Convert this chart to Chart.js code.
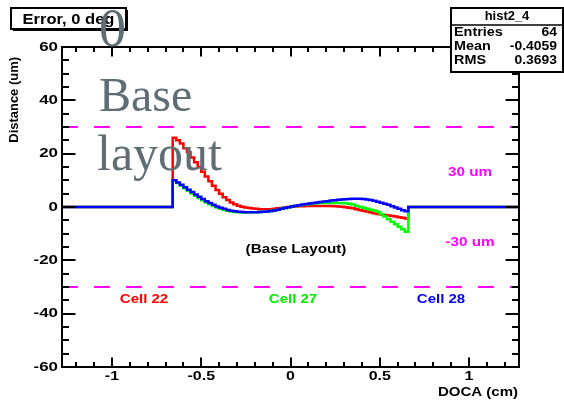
<!DOCTYPE html>
<html>
<head>
<meta charset="utf-8">
<script src="https://cdn.jsdelivr.net/npm/chart.js@4/dist/chart.umd.min.js"></script>
<style>
  html, body { margin: 0; padding: 0; background: #ffffff; }
  #wrap { width: 564px; height: 404px; position: relative; }
</style>
</head>
<body>
<div id="wrap"><canvas id="c"></canvas></div>
<script>
// Histogram range and binning (DOCA in cm)
const xRange = [-1.28, 1.28];
const yRange = [-60, 60];
const binStart = -0.66;
const binWidth = 0.02;

// Residual distance per DOCA bin (um), one array per cell
const cell22 = [
  26.0, 25.0, 23.8, 22.0, 20.5, 18.6, 16.8, 15.0, 13.2, 11.4,
  9.7, 8.0, 6.4, 5.0, 3.7, 2.6, 1.7, 1.0, 0.5, 0.1,
  -0.2, -0.4, -0.6, -0.7, -0.8, -0.8, -0.8, -0.8, -0.7, -0.5,
  -0.4, -0.2, 0.0, 0.1, 0.2, 0.3, 0.3, 0.4, 0.4, 0.4,
  0.4, 0.4, 0.4, 0.4, 0.4, 0.3, 0.2, 0.1, -0.1, -0.3,
  -0.5, -0.8, -1.1, -1.4, -1.7, -2.0, -2.3, -2.6, -2.8, -3.0,
  -3.2, -3.4, -3.6, -3.8, -4.0, -4.3
];
const cell27 = [
  10.0, 9.0, 8.0, 7.0, 6.1, 5.1, 4.2, 3.3, 2.5, 1.7,
  1.0, 0.4, -0.2, -0.7, -1.1, -1.4, -1.7, -1.9, -2.0, -2.1,
  -2.1, -2.1, -2.0, -2.0, -1.9, -1.8, -1.7, -1.5, -1.3, -1.0,
  -0.7, -0.4, -0.1, 0.2, 0.4, 0.6, 0.8, 0.9, 1.1, 1.3,
  1.4, 1.5, 1.5, 1.5, 1.5, 1.5, 1.5, 1.5, 1.4, 1.2,
  0.9, 0.5, 0.1, -0.3, -0.7, -1.0, -1.3, -1.8, -2.6, -3.6,
  -4.6, -5.5, -6.5, -7.4, -8.3, -9.3
];
const cell28 = [
  10.0, 9.2, 8.3, 7.4, 6.5, 5.6, 4.7, 3.8, 3.0, 2.2,
  1.5, 0.8, 0.2, -0.3, -0.7, -1.1, -1.4, -1.6, -1.8, -1.9,
  -2.0, -2.0, -2.0, -2.0, -1.9, -1.8, -1.7, -1.5, -1.3, -1.0,
  -0.7, -0.4, -0.1, 0.2, 0.5, 0.7, 0.9, 1.1, 1.3, 1.5,
  1.7, 1.9, 2.1, 2.2, 2.4, 2.5, 2.7, 2.8, 2.9, 3.0,
  3.1, 3.1, 3.1, 3.0, 2.8, 2.6, 2.3, 2.0, 1.6, 1.2,
  0.8, 0.3, -0.2, -0.7, -1.2, -1.6
];

// Tolerance band (um)
const bandLevels = [30, -30];

// Axis ticks and labels
const xTickValues = [-1, -0.5, 0, 0.5, 1];
const xTickLabels = ['-1', '-0.5', '0', '0.5', '1'];
const xMinorStep = 0.1;
const yTickValues = [-60, -40, -20, 0, 20, 40, 60];
const yTickLabels = ['-60', '-40', '-20', '0', '20', '40', '60'];
const yMinorStep = 5;

// Statistics box contents
const statsTitle = 'hist2_4';
const statsNames = ['Entries', 'Mean', 'RMS'];
const statsValues = ['64', '-0.4059', '0.3693'];

const SANS = '"Liberation Sans", Arial, Helvetica, sans-serif';
const SERIF = '"Liberation Serif", "Times New Roman", serif';

// Turn bin contents into step points: each point sits on a bin's low edge
function stepPoints(values) {
  const pts = [{ x: xRange[0], y: 0 }];
  values.forEach((v, i) => pts.push({ x: binStart + i * binWidth, y: v }));
  pts.push({ x: binStart + values.length * binWidth, y: 0 });
  pts.push({ x: xRange[1], y: 0 });
  return pts;
}

function bandPoints(level) {
  return [{ x: xRange[0], y: level }, { x: xRange[1], y: level }];
}

// Horizontally widened bold text
function text(ctx, s, x, y, o) {
  ctx.save();
  ctx.font = (o.weight || 'bold') + ' ' + o.size + 'px ' + (o.family || SANS);
  ctx.fillStyle = o.color || '#000';
  ctx.textBaseline = o.baseline || 'middle';
  ctx.textAlign = o.align || 'left';
  ctx.translate(x, y);
  if (o.rotate) ctx.rotate(o.rotate);
  ctx.scale(o.sx || 1, 1);
  ctx.fillText(s, 0, 0);
  ctx.restore();
}

const framePlugin = {
  id: 'frame',
  afterDatasetsDraw(chart) {
    const ctx = chart.ctx;
    const a = chart.chartArea;
    const xs = chart.scales.x, ys = chart.scales.y;
    ctx.save();
    ctx.strokeStyle = '#000';
    ctx.lineWidth = 2;
    ctx.strokeRect(a.left, a.top, a.right - a.left, a.bottom - a.top);

    const xMaj = 9.5, xMin = 5, yMaj = 13.5, yMin = 7;
    ctx.lineWidth = 2;
    ctx.beginPath();
    // x axis ticks (bottom and top)
    const nx0 = Math.ceil(xRange[0] / xMinorStep - 1e-6);
    const nx1 = Math.floor(xRange[1] / xMinorStep + 1e-6);
    for (let k = nx0; k <= nx1; k++) {
      const v = k * xMinorStep;
      const major = xTickValues.some(t => Math.abs(t - v) < 1e-6);
      const len = major ? xMaj : xMin;
      const px = Math.round(xs.getPixelForValue(v));
      ctx.moveTo(px, a.bottom); ctx.lineTo(px, a.bottom - len);
      ctx.moveTo(px, a.top); ctx.lineTo(px, a.top + len);
    }
    // y axis ticks (left and right)
    for (let v = yRange[0]; v <= yRange[1]; v += yMinorStep) {
      const major = yTickValues.includes(v);
      const len = major ? yMaj : yMin;
      const py = Math.round(ys.getPixelForValue(v));
      ctx.moveTo(a.left, py); ctx.lineTo(a.left + len, py);
      ctx.moveTo(a.right, py); ctx.lineTo(a.right - len, py);
    }
    ctx.stroke();
    ctx.restore();

    // tick labels
    xTickValues.forEach((v, i) => {
      text(ctx, xTickLabels[i], xs.getPixelForValue(v), a.bottom + 10, { size: 12.5, sx: 1.28, align: 'center' });
    });
    yTickValues.forEach((v, i) => {
      text(ctx, yTickLabels[i], a.left - 4, ys.getPixelForValue(v), { size: 13, sx: 1.3, align: 'right' });
    });
    // axis titles
    text(ctx, 'DOCA (cm)', a.right - 1, a.bottom + 26, { size: 12, sx: 1.25, align: 'right' });
    text(ctx, 'Distance (um)', 14.5, a.top + 10, { size: 12, sx: 1.08, align: 'right', rotate: -Math.PI / 2 });
  },
  afterDraw(chart) {
    const ctx = chart.ctx;

    // annotations inside the frame
    text(ctx, '30 um', 470, 173, { size: 12.5, sx: 1.22, align: 'center', color: '#ff00ff' });
    text(ctx, '-30 um', 470, 243, { size: 12.5, sx: 1.22, align: 'center', color: '#ff00ff' });
    text(ctx, '(Base Layout)', 296, 250, { size: 12.5, sx: 1.22, align: 'center' });
    text(ctx, 'Cell 22', 144, 300, { size: 12.5, sx: 1.2, align: 'center', color: '#ff0000' });
    text(ctx, 'Cell 27', 293, 300, { size: 12.5, sx: 1.2, align: 'center', color: '#00ee00' });
    text(ctx, 'Cell 28', 441, 300, { size: 12.5, sx: 1.2, align: 'center', color: '#0000ff' });

    // title box with shadow
    ctx.save();
    ctx.fillStyle = '#000';
    ctx.fillRect(13, 10, 115, 21);
    ctx.fillStyle = '#fff';
    ctx.fillRect(11, 8, 115, 21);
    ctx.strokeStyle = '#000';
    ctx.lineWidth = 2;
    ctx.strokeRect(11, 8, 115, 21);
    ctx.restore();
    text(ctx, 'Error, 0 deg', 68.5, 19.5, { size: 14.5, sx: 1.14, align: 'center' });

    // statistics box
    ctx.save();
    ctx.fillStyle = '#fff';
    ctx.fillRect(451, 8, 112, 64);
    ctx.strokeStyle = '#000';
    ctx.lineWidth = 2;
    ctx.strokeRect(451, 8, 112, 64);
    ctx.lineWidth = 1.5;
    ctx.beginPath(); ctx.moveTo(451, 25); ctx.lineTo(563, 25); ctx.stroke();
    ctx.restore();
    text(ctx, statsTitle, 507, 16.5, { size: 12, sx: 1.08, align: 'center' });
    const rowY = [32.5, 46.5, 60.5];
    statsNames.forEach((n, i) => {
      text(ctx, n, 454, rowY[i], { size: 12, sx: 1.2, align: 'left' });
      text(ctx, statsValues[i], 557, rowY[i], { size: 12, sx: 1.16, align: 'right' });
    });

    // large grey caption
    const grey = '#5f6d74';
    text(ctx, '0', 112.5, 45.5, { weight: 'normal', family: SERIF, size: 54, color: grey, align: 'center', baseline: 'alphabetic' });
    text(ctx, 'Base', 99, 111, { weight: 'normal', family: SERIF, size: 48, color: grey, baseline: 'alphabetic' });
    text(ctx, 'layout', 97, 170, { weight: 'normal', family: SERIF, size: 50, color: grey, baseline: 'alphabetic' });
  }
};

const histStyle = { pointRadius: 0, borderWidth: 2.5, fill: false, stepped: 'before', tension: 0 };

new Chart(document.getElementById('c'), {
  type: 'line',
  data: {
    datasets: [
      Object.assign({ label: 'Cell 28', data: stepPoints(cell28), borderColor: '#0000ff', order: 0 }, histStyle),
      Object.assign({ label: 'Cell 27', data: stepPoints(cell27), borderColor: '#00ff00', order: 1 }, histStyle),
      Object.assign({ label: 'Cell 22', data: stepPoints(cell22), borderColor: '#ff0000', order: 2 }, histStyle),
      { label: '+30 um', data: bandPoints(bandLevels[0]), borderColor: '#ff00ff', borderWidth: 2,
        borderDash: [16, 16], pointRadius: 0, fill: false, order: 3 },
      { label: '-30 um', data: bandPoints(bandLevels[1]), borderColor: '#ff00ff', borderWidth: 2,
        borderDash: [16, 16], pointRadius: 0, fill: false, order: 3 }
    ]
  },
  options: {
    responsive: true,
    maintainAspectRatio: false,
    devicePixelRatio: 1,
    animation: false,
    events: [],
    layout: { padding: { left: 0, top: 47, right: 45, bottom: 0 } },
    plugins: { legend: { display: false }, tooltip: { enabled: false }, title: { display: false } },
    scales: {
      x: {
        type: 'linear', min: xRange[0], max: xRange[1],
        grid: { display: false }, border: { display: false },
        ticks: { display: false },
        afterBuildTicks: s => { s.ticks = xTickValues.map(v => ({ value: v })); },
        afterFit: s => { s.height = 37; }
      },
      y: {
        type: 'linear', min: yRange[0], max: yRange[1],
        grid: { display: false }, border: { display: false },
        ticks: { display: false },
        afterBuildTicks: s => { s.ticks = yTickValues.map(v => ({ value: v })); },
        afterFit: s => { s.width = 62; }
      }
    }
  },
  plugins: [framePlugin]
});
</script>
</body>
</html>
